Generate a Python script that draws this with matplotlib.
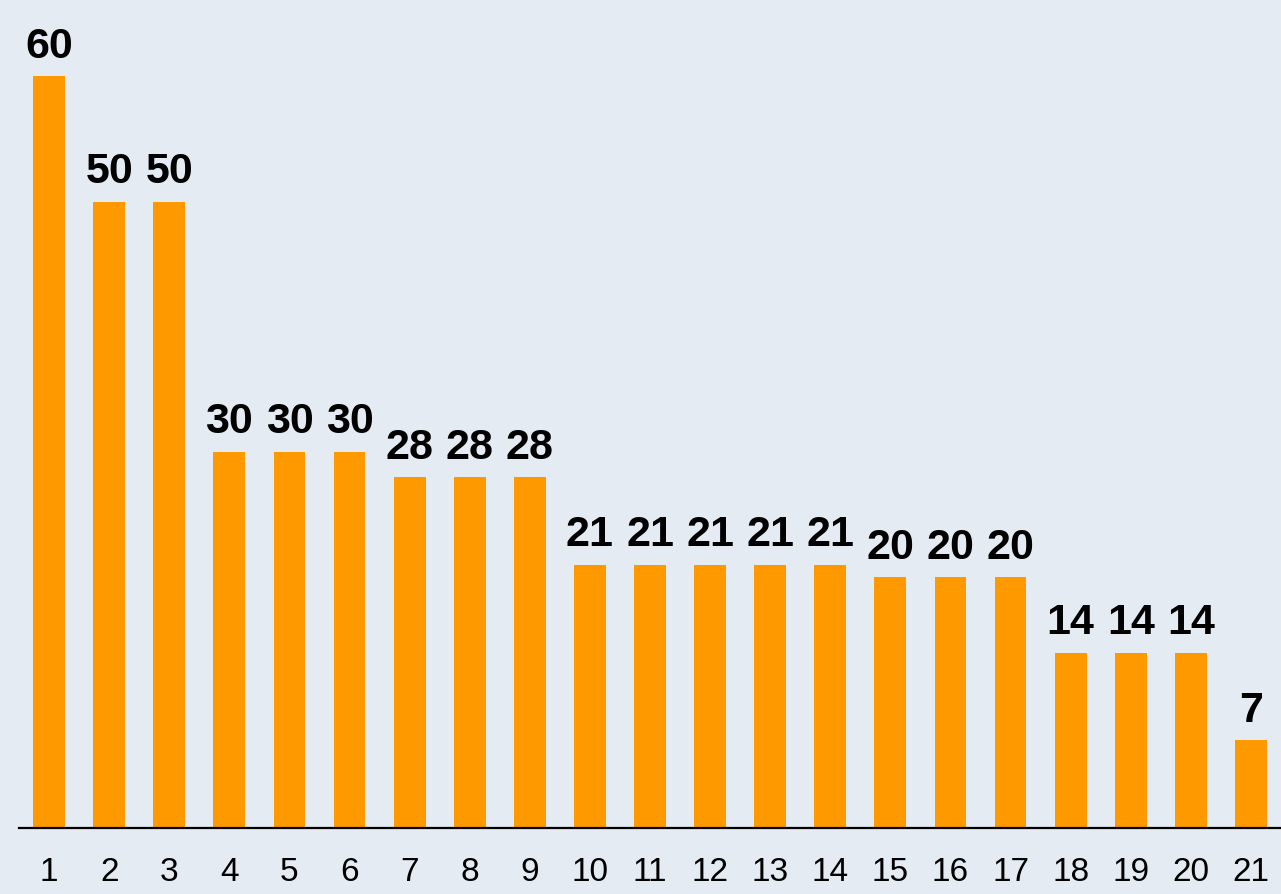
import matplotlib.pyplot as plt

plt.rcParams['font.family'] = ['Liberation Sans', 'DejaVu Sans']

ranks = list(range(1, 22))
values = [60, 50, 50, 30, 30, 30, 28, 28, 28, 21, 21, 21, 21, 21, 20, 20, 20, 14, 14, 14, 7]

bg = '#e4ebf2'
bar_color = '#ff9900'

W, H = 1281, 894
fig = plt.figure(figsize=(W / 100, H / 100), dpi=100, facecolor=bg)
ax = fig.add_axes([19 / W, 66 / H, 1262 / W, 828 / H])
ax.set_facecolor(bg)

bars = ax.bar(ranks, values, width=0.53, color=bar_color, zorder=2)
for x, v in zip(ranks, values):
    ax.annotate(str(v), (x, v), xytext=(0, 7), textcoords='offset points',
                ha='center', va='bottom', fontsize=31, fontweight='bold', color='black')

ax.set_xlim(0.5, 21.5)
ax.set_ylim(0, 66.1)
ax.set_xticks(ranks)
ax.set_xticklabels([str(r) for r in ranks], fontsize=24, color='black')
ax.tick_params(axis='x', length=0, pad=21)
ax.set_yticks([])
for side in ['top', 'right', 'left']:
    ax.spines[side].set_visible(False)
ax.spines['bottom'].set_linewidth(1.6)
ax.spines['bottom'].set_color('black')

fig.savefig('out.png', dpi=100, facecolor=bg)
